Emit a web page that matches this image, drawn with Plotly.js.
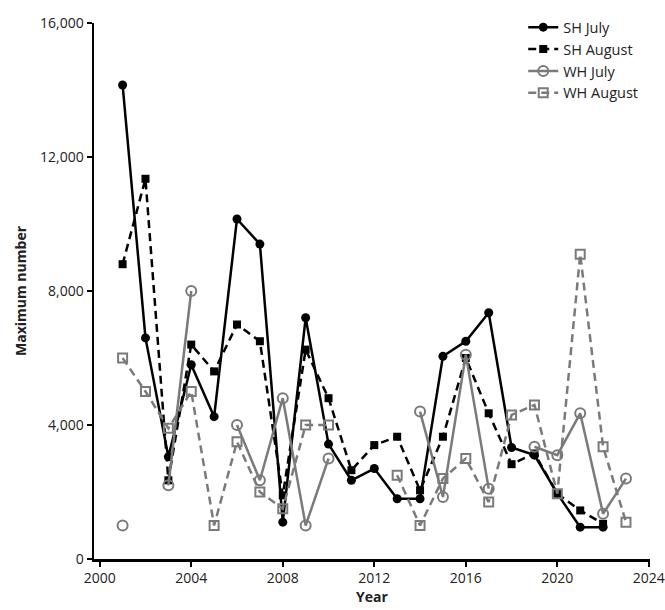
<!DOCTYPE html>
<html>
<head>
<meta charset="utf-8">
<script src="https://cdn.plot.ly/plotly-3.0.1.min.js"></script>
<style>html,body{margin:0;padding:0;background:#fff;}#chart{width:665px;height:610px;}</style>
</head>
<body>
<div id="chart"></div>
<script>
const years = [2001,2002,2003,2004,2005,2006,2007,2008,2009,2010,2011,2012,2013,2014,2015,2016,2017,2018,2019,2020,2021,2022,2023];
const shJuly   = [14150,6600,3050,5800,4250,10150,9400,1100,7200,3430,2350,2700,1800,1800,6050,6500,7350,3330,3100,1950,950,950,null];
const shAugust = [8800,11350,2350,6400,5600,7000,6500,1900,6250,4800,2650,3400,3650,2050,3650,6000,4350,2830,3150,1950,1450,1050,null];
const whJuly   = [1000,null,2200,8000,null,4000,2350,4800,1000,3000,null,null,null,4400,1850,6100,2100,null,3350,3100,4350,1350,2400];
const whAugust = [6000,5000,3900,5000,1000,3500,2000,1500,4000,4000,null,null,2500,1000,2400,3000,1700,4300,4600,1950,9100,3350,1100];
const seriesNames = ['SH July','SH August','WH July','WH August'];

const black = '#000000';
const gray = '#7a7a7a';

const traces = [
  {x: years, y: shJuly, name: seriesNames[0], mode: 'lines+markers',
   line: {color: black, width: 2.5}, marker: {symbol: 'circle', size: 9, color: black}},
  {x: years, y: shAugust, name: seriesNames[1], mode: 'lines+markers',
   line: {color: black, width: 2.5, dash: '8px,5px'}, marker: {symbol: 'square', size: 8, color: black}},
  {x: years, y: whJuly, name: seriesNames[2], mode: 'lines+markers',
   line: {color: gray, width: 2.5}, marker: {symbol: 'circle-open', size: 10, color: gray, line: {width: 2, color: gray}}},
  {x: years, y: whAugust, name: seriesNames[3], mode: 'lines+markers',
   line: {color: gray, width: 2.5, dash: '8px,5px'}, marker: {symbol: 'square-open', size: 9, color: gray, line: {width: 2, color: gray}}}
];
traces.forEach(t => { t.connectgaps = false; t.cliponaxis = false; });

const layout = {
  width: 665, height: 610,
  margin: {l: 94, r: 15, t: 22, b: 51},
  paper_bgcolor: '#fff', plot_bgcolor: '#fff',
  font: {family: '"Open Sans", "Noto Sans", sans-serif', size: 14, color: '#222'},
  showlegend: true,
  legend: {x: 0.772, y: 1.02, xanchor: 'left', yanchor: 'top', bgcolor: 'rgba(0,0,0,0)',
           font: {size: 14.5, color: '#222'}, itemwidth: 30, tracegroupgap: 0},
  xaxis: {
    range: [1999.75, 2024.05], tick0: 2000, dtick: 4, showgrid: false, zeroline: false,
    showline: true, linecolor: '#000', linewidth: 2.5, ticks: 'outside', ticklen: 5, tickwidth: 2, tickcolor: '#000',
    tickfont: {size: 14, color: '#222'},
    title: {text: '<b>Year</b>', font: {size: 14, color: '#222'}, standoff: 2}
  },
  yaxis: {
    range: [0, 16000], tick0: 0, dtick: 4000, tickformat: ',d', showgrid: false, zeroline: false,
    showline: true, linecolor: '#000', linewidth: 2.5, ticks: 'outside', ticklen: 5, tickwidth: 2, tickcolor: '#000',
    tickfont: {size: 14, color: '#222'},
    title: {text: '<b>Maximum number</b>', font: {size: 14, color: '#222'}, standoff: 10}
  }
};

Plotly.newPlot('chart', traces, layout, {displayModeBar: false, staticPlot: true});
</script>
</body>
</html>
